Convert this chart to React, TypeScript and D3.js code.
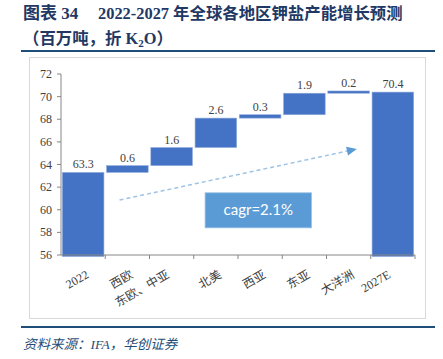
import React from "react";
import * as d3 from "d3";

const categories = ["2022", "西欧", "东欧、中亚", "北美", "西亚", "东亚", "大洋洲", "2027E"];
const startValue = 63.3;
const deltas = [0.6, 1.6, 2.6, 0.3, 1.9, 0.2];
const endValue = 70.4;
const yTicks = [56, 58, 60, 62, 64, 66, 68, 70, 72];
const title1a = "图表 34";
const title1b = "2022-2027 年全球各地区钾盐产能增长预测";
const title2 = "（百万吨，折 K";
const title2sub = "2";
const title2end = "O）";
const sourceText = "资料来源：IFA，华创证券";
const cagrText = "cagr=2.1%";

const W = 443;
const H = 359;

export default function App() {
  const x = d3.scaleBand<string>().domain(categories).range([61, 415]).paddingInner(0.06).paddingOuter(0.03);
  const y = d3.scaleLinear().domain([56, 72]).range([255, 74]);
  const step = x.step();

  type Bar = { cat: string; lo: number; hi: number; label: string };
  const bars: Bar[] = [];
  bars.push({ cat: categories[0], lo: 56, hi: startValue, label: startValue.toFixed(1) });
  let acc = startValue;
  deltas.forEach((d, i) => {
    bars.push({ cat: categories[i + 1], lo: acc, hi: acc + d, label: d.toFixed(1) });
    acc += d;
  });
  bars.push({ cat: categories[categories.length - 1], lo: 56, hi: endValue, label: endValue.toFixed(1) });

  const serif = "'Liberation Serif', 'Noto Sans CJK SC', serif";
  const navy = "#1F3864";
  const lineBlue = "#1F4E79";

  const ax1 = (x("西欧") as number) + 13;
  const ay1 = y(60.86);
  const ax2 = (x("大洋洲") as number) + 29;
  const ay2 = y(65.37);
  const ang = Math.atan2(ay2 - ay1, ax2 - ax1);
  const headLen = 10;
  const headW = 4.5;
  const bx = ax2 - headLen * Math.cos(ang);
  const by = ay2 - headLen * Math.sin(ang);
  const px = -Math.sin(ang) * headW;
  const py = Math.cos(ang) * headW;

  const boxX0 = (x("北美") as number) + 10;
  const boxX1 = (x("东亚") as number) + 28;
  const boxY0 = y(61.5);
  const boxY1 = y(58.4);

  const boundaries = categories.map((_, i) => 61 + step * (i + 1));

  return (
    <svg width={W} height={H} style={{ position: "absolute", left: 0, top: 0, background: "#fff" }}>
      <rect x={0} y={0} width={W} height={H} fill="#fff" />
      <text x={23} y={19} fontFamily={serif} fontWeight="bold" fontSize={17} fill={navy}>
        {title1a}
      </text>
      <text x={98} y={19} fontFamily={serif} fontWeight="bold" fontSize={16.4} fill={navy}>
        {title1b}
      </text>
      <text x={23} y={44} fontFamily={serif} fontWeight="bold" fontSize={16.4} fill={navy}>
        {title2}
        <tspan fontSize={11} dy={3}>{title2sub}</tspan>
        <tspan dy={-3}>{title2end}</tspan>
      </text>
      <line x1={21} x2={435} y1={51} y2={51} stroke={lineBlue} strokeWidth={2} />
      <rect x={29.5} y={57.5} width={396} height={261} fill="#fff" stroke="#d9d9d9" strokeWidth={1} />

      {bars.map((b, i) => {
        const x0 = x(b.cat) as number;
        const top = y(b.hi);
        const bottom = b.lo === 56 ? y(56) + 1.5 : y(b.lo);
        return (
          <g key={i}>
            <rect x={x0} y={top} width={x.bandwidth()} height={Math.max(1.2, bottom - top)} fill="#4472C4" stroke="#8FAADC" strokeWidth={0.6} />
            <text x={x0 + x.bandwidth() / 2} y={top - 4} textAnchor="middle" fontFamily={serif} fontSize={12} fill="#404040">
              {b.label}
            </text>
          </g>
        );
      })}

      <line x1={61} x2={61} y1={y(72)} y2={y(56)} stroke="#868686" strokeWidth={1} />
      {yTicks.map((t) => (
        <g key={t}>
          <line x1={57} x2={61} y1={y(t)} y2={y(t)} stroke="#868686" strokeWidth={1} />
          <text x={52} y={y(t) + 4} textAnchor="end" fontFamily={serif} fontSize={12} fill="#404040">
            {t}
          </text>
        </g>
      ))}
      <line x1={61} x2={415} y1={y(56)} y2={y(56)} stroke="#868686" strokeWidth={1} />
      {boundaries.map((bx0, i) => (
        <line key={i} x1={bx0} x2={bx0} y1={y(56)} y2={y(56) + 4} stroke="#868686" strokeWidth={1} />
      ))}
      {categories.map((c) => {
        const cx = (x(c) as number) + x.bandwidth() / 2;
        const shift = c.length > 4 ? -8 : 0;
        return (
          <text
            key={c}
            transform={`translate(${cx + 6.5 + shift},${277}) rotate(-30)`}
            textAnchor="end"
            fontFamily={serif}
            fontSize={12}
            fill="#404040"
          >
            {c}
          </text>
        );
      })}

      <line x1={ax1} y1={ay1} x2={bx} y2={by} stroke="#9DC3E6" strokeWidth={1.5} strokeDasharray="4 3" />
      <polygon points={`${ax2},${ay2} ${bx + px},${by + py} ${bx - px},${by - py}`} fill="#5B9BD5" />

      <rect x={boxX0} y={boxY0} width={boxX1 - boxX0} height={boxY1 - boxY0} fill="#5B9BD5" stroke="#9DC3E6" strokeWidth={0.8} />
      <text x={(boxX0 + boxX1) / 2} y={(boxY0 + boxY1) / 2 + 5} textAnchor="middle" fontFamily="Lato, 'Open Sans', sans-serif" fontSize={15} fill="#fff">
        {cagrText}
      </text>

      <line x1={21} x2={435} y1={327} y2={327} stroke={lineBlue} strokeWidth={2} />
      <text x={23} y={349} fontFamily={serif} fontStyle="italic" fontSize={13.5} fill={lineBlue}>
        {sourceText}
      </text>
    </svg>
  );
}
